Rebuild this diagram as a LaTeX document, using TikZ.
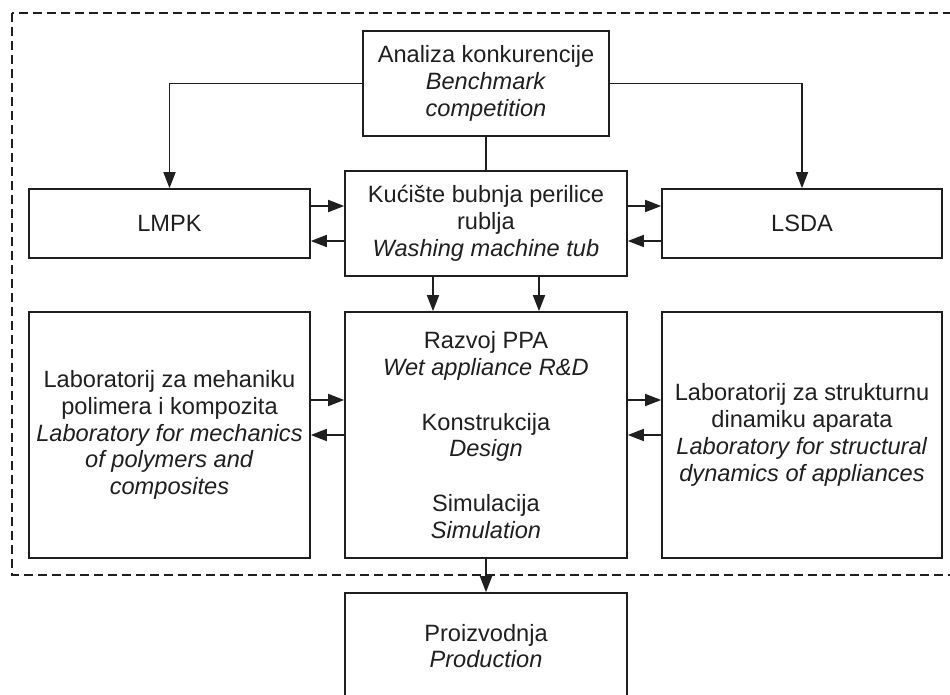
\documentclass[tikz,border=0pt]{standalone}
\usepackage{fontspec}
\setmainfont{Liberation Sans}
\usetikzlibrary{arrows.meta}
\definecolor{ink}{gray}{0.12}
\begin{document}
\begin{tikzpicture}[x=0.5pt,y=-0.5pt,
  box/.style={draw=ink,line width=0.8pt,text=ink,align=center,inner sep=0pt,
    font=\fontsize{11.8}{13.4}\selectfont},
  arr/.style={draw=ink,line width=0.8pt,-{Triangle[length=8pt,width=6pt]}},
  link/.style={draw=ink,line width=0.8pt},
  frame/.style={draw=ink,line width=0.8pt,dash pattern=on 4.5pt off 2.5pt}]
                \useasboundingbox (0,0) rectangle (950,695);
                \clip (0,0) rectangle (950,695);
                \draw[frame] (12,13) rectangle (970,575);
                \path (486,83.5) node[box,minimum width=123pt,minimum height=52.5pt] (anal) {Analiza konkurencije\\\textit{Benchmark}\\\textit{competition}};
                \path (169.5,223.5) node[box,minimum width=140.5pt,minimum height=34.5pt] (lmpk) {LMPK};
                \path (486,223.5) node[box,minimum width=141pt,minimum height=52.5pt] (kuc) {Kućište bubnja perilice\\rublja\\\textit{Washing machine tub}};
                \path (802,223.5) node[box,minimum width=140pt,minimum height=34.5pt] (lsda) {LSDA};
                \path (169.5,435) node[box,minimum width=140.5pt,minimum height=123pt] (labmpk) {Laboratorij za mehaniku\\polimera i kompozita\\\textit{Laboratory for mechanics}\\\textit{of polymers and}\\\textit{composites}};
                \path (486,435) node[box,minimum width=141pt,minimum height=123pt] (razvoj) {Razvoj PPA\\\textit{Wet appliance R\&D}\\[14pt]Konstrukcija\\\textit{Design}\\[14pt]Simulacija\\\textit{Simulation}};
                \path (802,435) node[box,minimum width=140pt,minimum height=123pt] (labsda) {Laboratorij za strukturnu\\dinamiku aparata\\\textit{Laboratory for structural}\\\textit{dynamics of appliances}};
                \path (486,646) node[box,minimum width=141pt,minimum height=53pt] (proiz) {Proizvodnja\\\textit{Production}};
                % veze
                \draw[arr] (anal.west) -| (lmpk.north);
                \draw[arr] (anal.east) -| (lsda.north);
                \draw[link] (anal) -- (kuc);
                \draw[arr] ([yshift=8.75pt]lmpk.east) -- ([yshift=8.75pt]kuc.west);
                \draw[arr] ([yshift=-8.75pt]kuc.west) -- ([yshift=-8.75pt]lmpk.east);
                \draw[arr] ([yshift=8.75pt]kuc.east) -- ([yshift=8.75pt]lsda.west);
                \draw[arr] ([yshift=-8.75pt]lsda.west) -- ([yshift=-8.75pt]kuc.east);
                \draw[arr] ([xshift=-26.5pt]kuc.south) -- ([xshift=-26.5pt]razvoj.north);
                \draw[arr] ([xshift=26.5pt]kuc.south) -- ([xshift=26.5pt]razvoj.north);
                \draw[arr] ([yshift=17.5pt]labmpk.east) -- ([yshift=17.5pt]razvoj.west);
                \draw[arr] (razvoj.west) -- (labmpk.east);
                \draw[arr] ([yshift=17.5pt]razvoj.east) -- ([yshift=17.5pt]labsda.west);
                \draw[arr] (labsda.west) -- (razvoj.east);
                \draw[arr] (razvoj) -- (proiz);
              \end{tikzpicture}
\end{document}
